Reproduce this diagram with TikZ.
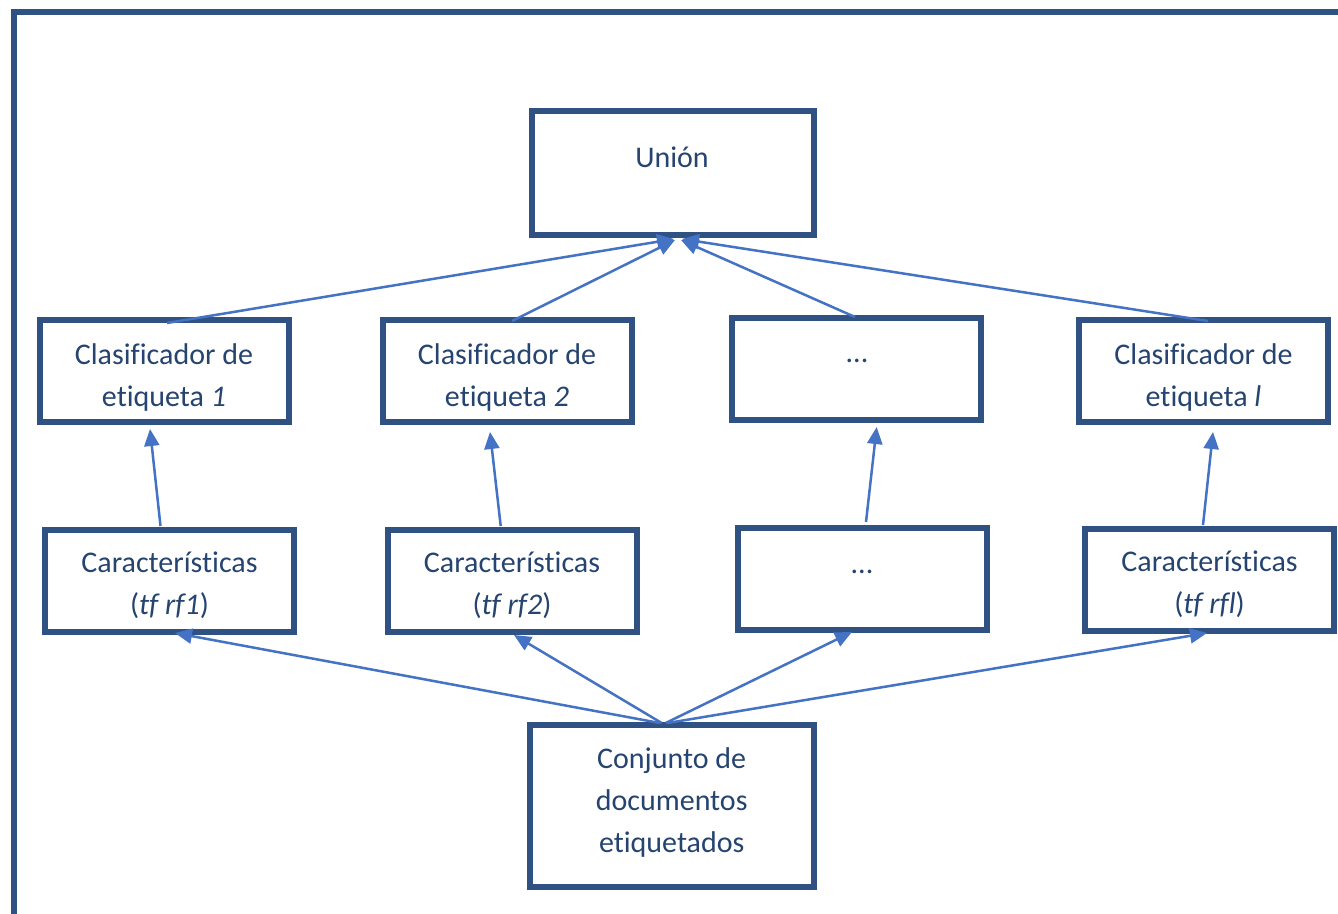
\documentclass[tikz,border=0pt]{standalone}
\usepackage{fontspec}
\setmainfont{Carlito}[Ligatures=NoCommon]
\usetikzlibrary{arrows.meta}
\definecolor{boxblue}{RGB}{47,82,131}
\definecolor{txtblue}{RGB}{38,68,112}
\definecolor{arrblue}{RGB}{68,114,196}
\tikzset{
  box/.style={draw=boxblue, line width=6pt, minimum width=249pt, minimum height=102pt, inner sep=0pt, fill=white},
  txt/.style={text=txtblue, align=center, inner sep=0pt, font=\fontsize{30}{42}\selectfont},
  arr/.style={draw=arrblue, line width=2.5pt, -{Triangle[length=17pt,width=15pt]}}
}
\begin{document}
\begin{tikzpicture}[x=1pt,y=-1pt]
\useasboundingbox (0,0) rectangle (1338,913);
\clip (0,0) rectangle (1338,913);
\fill[white] (0,0) rectangle (1338,913);
\draw[boxblue, line width=6pt] (13.5,11.5) rectangle (1360,940);

% boxes
\node[box, minimum width=282pt, minimum height=124pt] (u) at (673,173) {};
\node[box] (c1) at (164,371) {};
\node[box] (c2) at (507,371) {};
\node[box] (c3) at (856,369) {};
\node[box] (c4) at (1203.5,371) {};
\node[box] (f1) at (169.5,581) {};
\node[box] (f2) at (512,581) {};
\node[box] (f3) at (862,579) {};
\node[box] (f4) at (1209.5,580) {};
\node[box, minimum width=284pt, minimum height=162pt] (d) at (671.7,806) {};

% texts
\node[txt, anchor=base] (ut) at (672,167) {Unión};
\node[txt] (c1t) at ([yshift=-6pt]c1.center) {Clasificador de\\etiqueta \textit{1}};
\node[txt] (c2t) at ([yshift=-6pt]c2.center) {Clasificador de\\etiqueta \textit{2}};
\node[txt, anchor=base] (c3t) at (857,362) {...};
\node[txt] (c4t) at ([yshift=-6pt]c4.center) {Clasificador de\\etiqueta \textit{l}};
\node[txt] (f1t) at ([yshift=-4pt]f1.center) {Características\\(\textit{tf rf1})};
\node[txt] (f2t) at ([yshift=-4pt]f2.center) {Características\\(\textit{tf rf2})};
\node[txt, anchor=base] (f3t) at (862,573) {...};
\node[txt] (f4t) at ([yshift=-4pt]f4.center) {Características\\(\textit{tf rfl})};
\node[txt] (dt) at ([yshift=4pt]d.center) {Conjunto de\\documentos\\etiquetados};

% arrows: document set -> features
\draw[arr] ([xshift=-12pt,yshift=-1pt]d.north) -- ([xshift=5.5pt,yshift=2pt]f1.south);
\draw[arr] ([xshift=-10pt,yshift=-1pt]d.north) -- ([xshift=2pt,yshift=0pt]f2.south);
\draw[arr] ([xshift=-6pt,yshift=-1pt]d.north) -- ([xshift=-10pt,yshift=1pt]f3.south);
\draw[arr] ([xshift=-4pt,yshift=-1pt]d.north) -- ([xshift=-2.5pt,yshift=1pt]f4.south);

% arrows: features -> classifiers
\draw[arr] ([xshift=-9pt,yshift=1pt]f1.north) -- ([xshift=-14pt,yshift=-4pt]c1.south);
\draw[arr] ([xshift=-11.3pt,yshift=1pt]f2.north) -- ([xshift=-17pt,yshift=-7pt]c2.south);
\draw[arr] ([xshift=4pt,yshift=3pt]f3.north) -- ([xshift=20.7pt,yshift=-4pt]c3.south);
\draw[arr] ([xshift=-6.5pt,yshift=1pt]f4.north) -- ([xshift=9.5pt,yshift=-7pt]c4.south);

% arrows: classifiers -> union
\draw[arr] ([xshift=3pt,yshift=-6pt]c1.north) -- ([xshift=1pt,yshift=-1pt]u.south);
\draw[arr] ([xshift=5pt,yshift=-4pt]c2.north) -- ([xshift=2pt,yshift=-2pt]u.south);
\draw[arr] ([xshift=-1pt,yshift=-2pt]c3.north) -- ([xshift=8pt,yshift=-2pt]u.south);
\draw[arr] ([xshift=4.5pt,yshift=-4pt]c4.north) -- ([xshift=9pt,yshift=-1pt]u.south);
\end{tikzpicture}
\end{document}
